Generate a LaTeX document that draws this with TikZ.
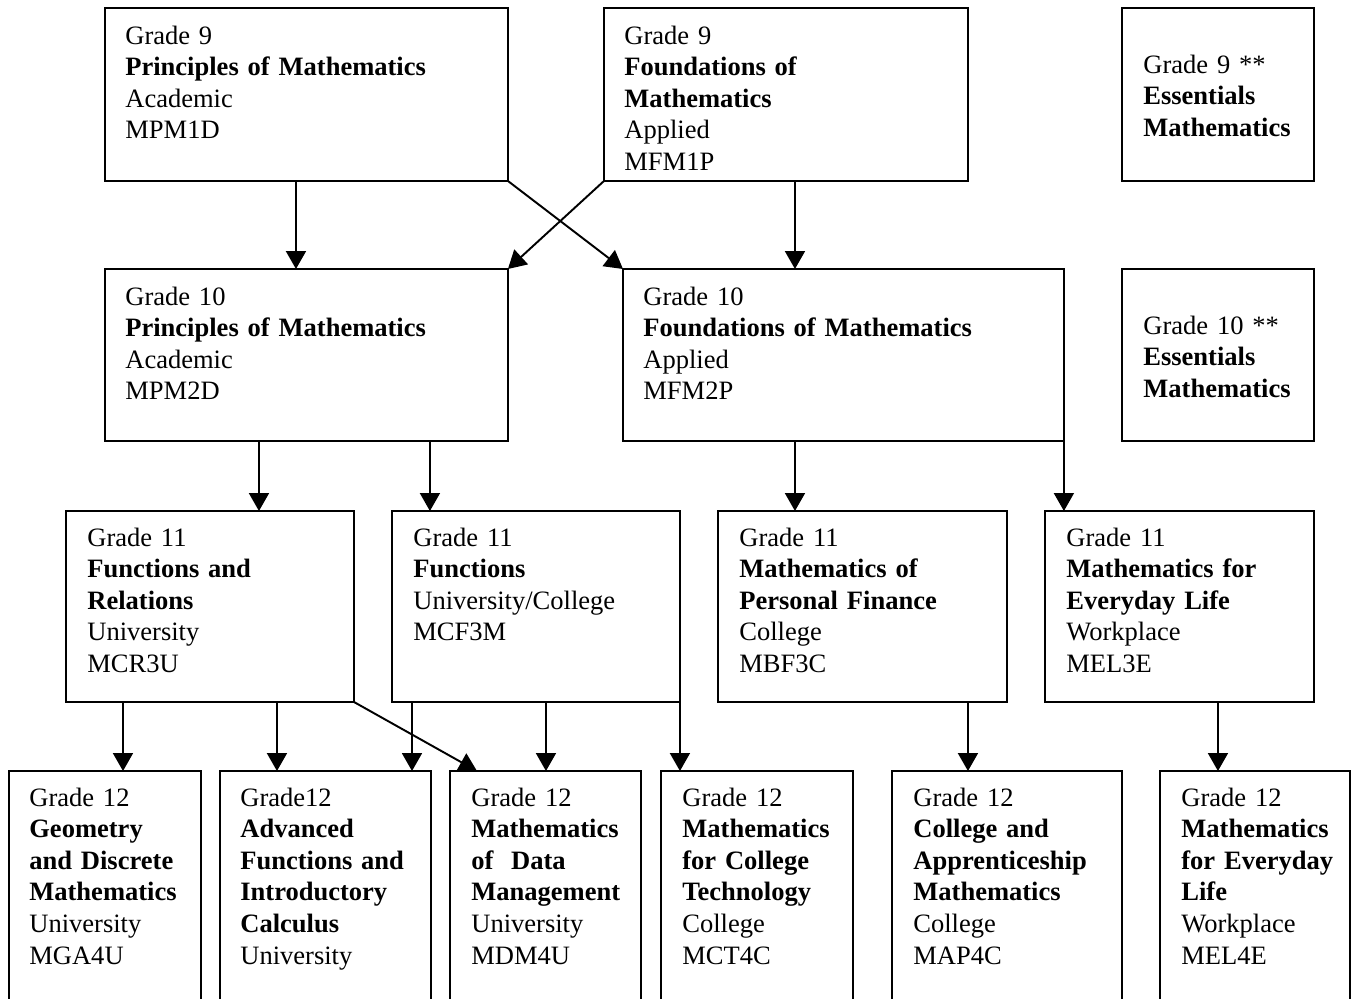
\documentclass[tikz,border=0pt]{standalone}
\usepackage{fontspec}
\setmainfont{Liberation Serif}
\usetikzlibrary{arrows.meta}

\begin{document}
\begin{tikzpicture}
            [
                x=0.02cm, y=-0.02cm,
                box/.style={draw, line width=1.1pt, outer sep=0pt,
                    inner sep=0pt, anchor=north west},
                txt/.style={anchor=base west, align=left, inner sep=0pt,
                    text width=9cm, font=\fontsize{15.1pt}{18pt}\selectfont},
                arr/.style={-{Triangle[length=0.36cm,width=0.4cm]},
                    line width=1.1pt}
            ]
            \useasboundingbox (0,0) rectangle (1353,998);
            \clip (0,0) rectangle (1353,998);

            % grade 9
            \node[box, minimum width=8.06cm, minimum height=3.46cm] (p9) at (105,8) {};
            \node[txt] (p9-t) at (125,44)
                {Grade 9\\ \textbf{Principles of Mathematics}\\ Academic\\ MPM1D};
            \node[box, minimum width=7.28cm, minimum height=3.46cm] (f9) at (604,8) {};
            \node[txt] (f9-t) at (624,44)
                {Grade 9\\ \textbf{Foundations of}\\ \textbf{Mathematics}\\ Applied\\ MFM1P};
            \node[box, minimum width=3.84cm, minimum height=3.46cm] (e9) at (1122,8) {};
            \node[txt] (e9-t) at (1143,73)
                {Grade 9 **\\ \textbf{Essentials}\\ \textbf{Mathematics}};

            % grade 10
            \node[box, minimum width=8.06cm, minimum height=3.44cm] (p10) at (105,269) {};
            \node[txt] (p10-t) at (125,305)
                {Grade 10\\ \textbf{Principles of Mathematics}\\ Academic\\ MPM2D};
            \node[box, minimum width=8.82cm, minimum height=3.44cm] (f10) at (623,269) {};
            \node[txt] (f10-t) at (643,305)
                {Grade 10\\ \textbf{Foundations of Mathematics}\\ Applied\\ MFM2P};
            \node[box, minimum width=3.84cm, minimum height=3.44cm] (e10) at (1122,269) {};
            \node[txt] (e10-t) at (1143,334)
                {Grade 10 **\\ \textbf{Essentials}\\ \textbf{Mathematics}};

            % grade 11
            \node[box, minimum width=5.76cm, minimum height=3.82cm] (mcr) at (66,511) {};
            \node[txt] (mcr-t) at (87,546)
                {Grade 11\\ \textbf{Functions and}\\ \textbf{Relations}\\ University\\ MCR3U};
            \node[box, minimum width=5.76cm, minimum height=3.82cm] (mcf) at (392,511) {};
            \node[txt] (mcf-t) at (413,546)
                {Grade 11\\ \textbf{Functions}\\ University/College\\ MCF3M};
            \node[box, minimum width=5.78cm, minimum height=3.82cm] (mbf) at (718,511) {};
            \node[txt] (mbf-t) at (739,546)
                {Grade 11\\ \textbf{Mathematics of}\\ \textbf{Personal Finance}\\ College\\ MBF3C};
            \node[box, minimum width=5.38cm, minimum height=3.82cm] (mel3) at (1045,511) {};
            \node[txt] (mel3-t) at (1066,546)
                {Grade 11\\ \textbf{Mathematics for}\\ \textbf{Everyday Life}\\ Workplace\\ MEL3E};

            % grade 12
            \node[box, minimum width=3.84cm, minimum height=5.2cm] (mga) at (9,771) {};
            \node[txt] (mga-t) at (29,806)
                {Grade 12\\ \textbf{Geometry}\\ \textbf{and Discrete}\\ \textbf{Mathematics}\\ University\\ MGA4U};
            \node[box, minimum width=4.22cm, minimum height=5.2cm] (mhf) at (220,771) {};
            \node[txt] (mhf-t) at (240,806)
                {Grade12\\ \textbf{Advanced}\\ \textbf{Functions and}\\ \textbf{Introductory}\\ \textbf{Calculus}\\ University};
            \node[box, minimum width=3.82cm, minimum height=5.2cm] (mdm) at (450,771) {};
            \node[txt] (mdm-t) at (471,806)
                {Grade 12\\ \textbf{Mathematics}\\ \textbf{of\ \ Data}\\ \textbf{Management}\\ University\\ MDM4U};
            \node[box, minimum width=3.84cm, minimum height=5.2cm] (mct) at (661,771) {};
            \node[txt] (mct-t) at (682,806)
                {Grade 12\\ \textbf{Mathematics}\\ \textbf{for College}\\ \textbf{Technology}\\ College\\ MCT4C};
            \node[box, minimum width=4.60cm, minimum height=5.2cm] (map) at (892,771) {};
            \node[txt] (map-t) at (913,806)
                {Grade 12\\ \textbf{College and}\\ \textbf{Apprenticeship}\\ \textbf{Mathematics}\\ College\\ MAP4C};
            \node[box, minimum width=3.80cm, minimum height=5.2cm] (mel4) at (1160,771) {};
            \node[txt] (mel4-t) at (1181,806)
                {Grade 12\\ \textbf{Mathematics}\\ \textbf{for Everyday}\\ \textbf{Life}\\ Workplace\\ MEL4E};

            % grade 9 -> grade 10
            \draw[arr] ([xshift=3.82cm]p9.south west) -- ([xshift=3.82cm]p9.south west |- p10.north);
            \draw[arr] ([xshift=3.82cm]f9.south west) -- ([xshift=3.82cm]f9.south west |- f10.north);
            \draw[arr] (p9.south east) -- (f10.north west);
            \draw[arr] (f9.south west) -- (p10.north east);

            % grade 10 -> grade 11
            \draw[arr] ([xshift=3.08cm]p10.south west) -- ([xshift=3.08cm]p10.south west |- mcr.north);
            \draw[arr] ([xshift=6.50cm]p10.south west) -- ([xshift=6.50cm]p10.south west |- mcf.north);
            \draw[arr] ([xshift=3.44cm]f10.south west) -- ([xshift=3.44cm]f10.south west |- mbf.north);
            \draw[arr] (f10.south east) -- (f10.south east |- mel3.north);

            % grade 11 -> grade 12
            \draw[arr] ([xshift=1.14cm]mcr.south west) -- ([xshift=1.14cm]mcr.south west |- mga.north);
            \draw[arr] ([xshift=4.22cm]mcr.south west) -- ([xshift=4.22cm]mcr.south west |- mhf.north);
            \draw[arr] (mcr.south east) -- ([xshift=0.54cm]mdm.north west);
            \draw[arr] ([xshift=0.40cm]mcf.south west) -- ([xshift=0.40cm]mcf.south west |- mhf.north);
            \draw[arr] ([xshift=3.08cm]mcf.south west) -- ([xshift=3.08cm]mcf.south west |- mdm.north);
            \draw[arr] (mcf.south east) -- (mcf.south east |- mct.north);
            \draw[arr] ([xshift=5.00cm]mbf.south west) -- ([xshift=5.00cm]mbf.south west |- map.north);
            \draw[arr] ([xshift=3.46cm]mel3.south west) -- ([xshift=3.46cm]mel3.south west |- mel4.north);
\end{tikzpicture}
\end{document}
